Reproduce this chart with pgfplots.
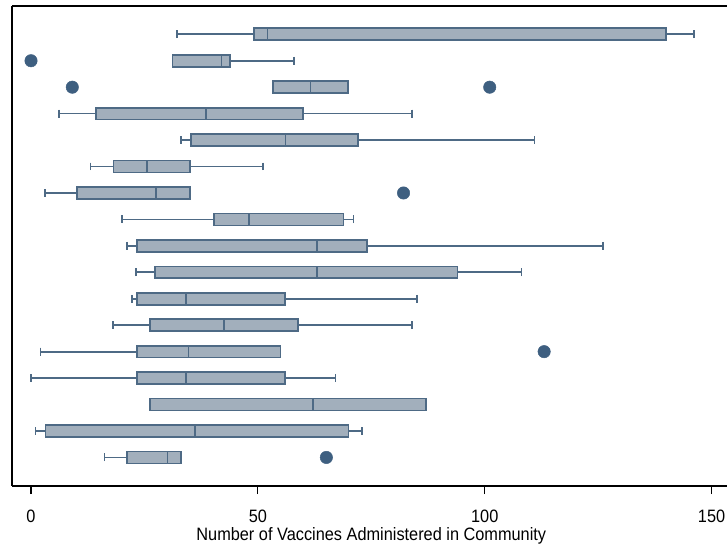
\documentclass[border=0pt]{standalone}
\usepackage{fontspec}
\setmainfont{Liberation Sans}[FakeStretch=0.91]
\usepackage{pgfplots}
\pgfplotsset{compat=1.18}
\usepgfplotslibrary{statistics}
\definecolor{boxfill}{HTML}{A2AFBC}
\definecolor{boxedge}{HTML}{4E6A85}
\definecolor{dotcol}{HTML}{3E5F80}
\pgfplotsset{
  bx/.style={draw=boxedge, fill=boxfill, line width=1.7bp, solid,
    mark=*, mark size=6.2bp, mark options={draw=dotcol, fill=dotcol, line width=0.5bp}},
  boxplot/every box/.style={draw=boxedge, fill=boxfill, line width=1.7bp},
  boxplot/every whisker/.style={draw=boxedge, line width=1.7bp},
  boxplot/every median/.style={draw=boxedge, line width=1.7bp},
}
\newcommand{\bxp}[6]{%
  \addplot[bx, boxplot prepared={draw position=#1, lower whisker=#2, lower quartile=#3,
    median=#4, upper quartile=#5, upper whisker=#6}]}
\begin{document}
\begin{tikzpicture}[x=1bp,y=1bp]
\begin{axis}[
  at={(0,0)}, anchor=south west,
  scale only axis, width=715bp, height=480bp,
  xmin=-4.19, xmax=153.4, ymin=-0.07, ymax=18.08, y dir=reverse,
  axis x line*=box, axis y line*=left,
  axis line style={-, line width=1.6bp, black},
  xtick={0,50,100,150}, xtick pos=bottom, ytick=\empty,
  tick align=outside, major tick length=8bp,
  every tick/.style={black, line width=1.2bp},
  tick label style={font=\fontsize{18}{20}\selectfont},
  xticklabel style={inner sep=0pt, yshift=-16bp},
  /pgf/number format/assume math mode=true,
  xlabel={Number of Vaccines Administered in Community},
  xlabel style={font=\fontsize{18}{20}\selectfont, inner sep=0pt, at={(ticklabel cs:0.5025)}, anchor=north, yshift=-4bp},
  boxplot/draw direction=x,
  boxplot/box extend=0.45,
  boxplot/whisker extend=0.3,
  clip=false,
]
\bxp{1}{32.1}{49.2}{52.1}{139.9}{146.1} coordinates {};
\bxp{2}{31.2}{31.2}{42.0}{43.9}{58.0} coordinates {(0,0.0)};
\bxp{3}{53.3}{53.3}{61.6}{69.9}{69.9} coordinates {(0,9.1) (0,101.1)};
\bxp{4}{6.1}{14.3}{38.6}{60.0}{84.0} coordinates {};
\bxp{5}{33.1}{35.2}{56.1}{72.0}{111.0} coordinates {};
\bxp{6}{13.1}{18.2}{25.6}{35.0}{51.1} coordinates {};
\bxp{7}{3.1}{10.2}{27.6}{35.0}{35.0} coordinates {(0,82.1)};
\bxp{8}{20.1}{40.3}{48.1}{68.9}{71.1} coordinates {};
\bxp{9}{21.2}{23.3}{63.0}{74.0}{126.1} coordinates {};
\bxp{10}{23.1}{27.3}{63.0}{94.0}{108.1} coordinates {};
\bxp{11}{22.2}{23.3}{34.1}{56.0}{85.1} coordinates {};
\bxp{12}{18.1}{26.3}{42.6}{58.9}{84.0} coordinates {};
\bxp{13}{2.1}{23.3}{34.7}{55.0}{55.0} coordinates {(0,113.1)};
\bxp{14}{0.0}{23.3}{34.1}{56.0}{67.1} coordinates {};
\bxp{15}{26.3}{26.3}{62.1}{87.0}{87.0} coordinates {};
\bxp{16}{1.0}{3.2}{36.1}{70.0}{72.9} coordinates {};
\bxp{17}{16.2}{21.2}{30.1}{33.0}{33.0} coordinates {(0,65.1)};
\end{axis}
\pgfresetboundingbox
\useasboundingbox (-12bp,-60bp) rectangle (715bp,486bp);
\end{tikzpicture}
\end{document}
